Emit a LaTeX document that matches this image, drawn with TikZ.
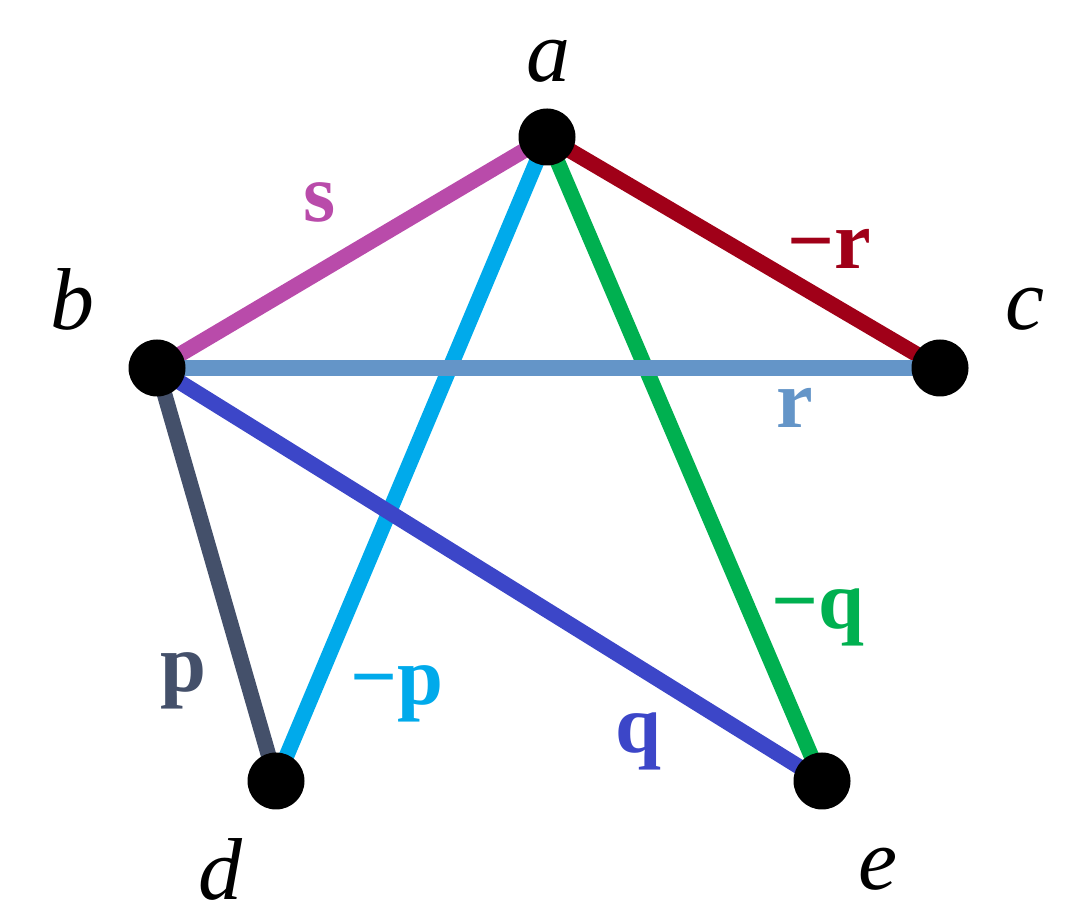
\documentclass[tikz,border=0pt]{standalone}
\usepackage{fontspec}
\setmainfont{Liberation Serif}
\definecolor{cs}{RGB}{185,75,170}
\definecolor{cmr}{RGB}{160,0,24}
\definecolor{cr}{RGB}{100,149,200}
\definecolor{cmq}{RGB}{0,176,80}
\definecolor{cmp}{RGB}{0,170,235}
\definecolor{cq}{RGB}{60,70,200}
\definecolor{cp}{RGB}{68,80,106}
\begin{document}
\begin{tikzpicture}[x=1cm,y=1cm,
  vtx/.style={circle,fill=black,inner sep=0pt,minimum size=0.57cm},
  edge/.style={line width=0.155cm},
  vlab/.style={font=\fontsize{25}{30}\selectfont\itshape,inner sep=0pt},
  elab/.style={font=\fontsize{23.5}{28}\selectfont\bfseries,inner sep=0pt}]
\useasboundingbox (0,0) rectangle (10.74,9.21);
\coordinate (a) at (5.47,7.84);
\coordinate (b) at (1.57,5.53);
\coordinate (c) at (9.40,5.53);
\coordinate (d) at (2.76,1.40);
\coordinate (e) at (8.22,1.40);
% edges
\draw[edge,cs] (a) -- (b);
\draw[edge,cmr] (a) -- (c);
\draw[edge,cmp] (a) -- (d);
\draw[edge,cmq] (a) -- (e);
\draw[edge,cp] (b) -- (d);
\draw[edge,cr] (b) -- (c);
\draw[edge,cq] (b) -- (e);
% vertices
\node[vtx] (va) at (a) {};
\node[vtx] (vb) at (b) {};
\node[vtx] (vc) at (c) {};
\node[vtx] (vd) at (d) {};
\node[vtx] (ve) at (e) {};
% vertex labels
\node[vlab] (la) at (5.48,8.60) {a};
\node[vlab] (lb) at (0.72,6.22) {b};
\node[vlab] (lc) at (10.25,6.12) {c};
\node[vlab] (ld) at (2.20,0.52) {d};
\node[vlab] (le) at (8.78,0.52) {e};
% edge labels
\node[elab,text=cs] (ls) at (3.20,7.19) {s};
\node[elab,text=cmr] (lmr) at (8.29,6.72) {−r};
\node[elab,text=cr] (lr) at (7.95,5.13) {r};
\node[elab,text=cmq] (lmq) at (8.18,3.04) {−q};
\node[elab,text=cmp] (lmp) at (3.97,2.27) {−p};
\node[elab,text=cq] (lq) at (6.38,1.80) {q};
\node[elab,text=cp] (lp) at (1.83,2.40) {p};
\end{tikzpicture}
\end{document}
